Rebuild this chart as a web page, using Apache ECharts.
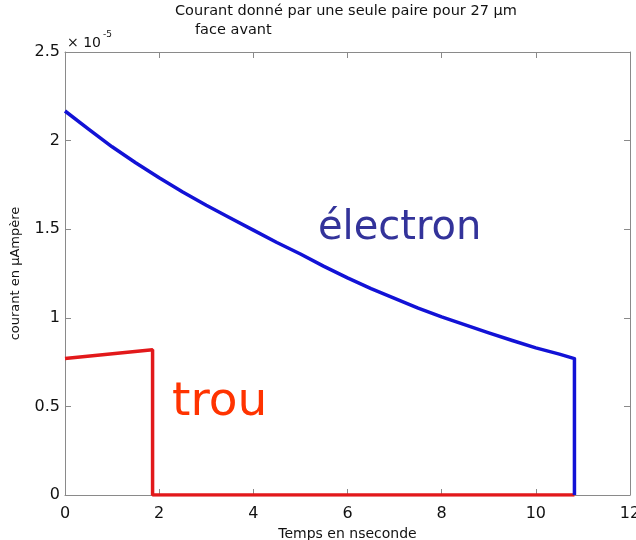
<!DOCTYPE html>
<html>
<head>
<meta charset="utf-8">
<script src="https://cdn.jsdelivr.net/npm/echarts@6/dist/echarts.min.js"></script>
<style>
html,body{margin:0;padding:0;background:#fff;}
#chart{width:636px;height:540px;}
</style>
</head>
<body>
<div id="chart"></div>
<script>
// Time in nanoseconds and current (in units of 1e-5) for each carrier
var electronTime = [0, 0.5, 1, 1.5, 2, 2.5, 3, 3.5, 4, 4.5, 5, 5.5, 6, 6.5, 7, 7.5, 8, 8.5, 9, 9.5, 10, 10.5, 10.82, 10.82];
var electronCurrent = [2.167, 2.065, 1.965, 1.875, 1.79, 1.71, 1.635, 1.565, 1.495, 1.425, 1.36, 1.29, 1.225, 1.165, 1.11, 1.055, 1.005, 0.96, 0.915, 0.872, 0.83, 0.795, 0.77, 0];
var holeTime = [0, 1.86, 1.86, 10.82];
var holeCurrent = [0.77, 0.82, 0, 0];
var xTicks = [0, 2, 4, 6, 8, 10, 12];
var yTicks = [0, 0.5, 1, 1.5, 2, 2.5];

var FONT = '"Comic Sans MS", "DejaVu Sans", sans-serif';

function pairs(xs, ys) {
  return xs.map(function (x, i) { return [x, ys[i]]; });
}

var axisLine = { show: true, onZero: false, lineStyle: { color: '#8a8a8a', width: 1 } };
var axisTick = { show: true, inside: true, length: 6, lineStyle: { color: '#8a8a8a' } };

var chart = echarts.init(document.getElementById('chart'));
chart.setOption({
  backgroundColor: '#fff',
  animation: false,
  grid: { left: 65, right: 6, top: 52, bottom: 45, containLabel: false, outerBoundsMode: 'none' },
  xAxis: [{
    type: 'value', position: 'bottom', min: xTicks[0], max: xTicks[xTicks.length - 1], interval: 2,
    axisLine: axisLine, axisTick: axisTick, splitLine: { show: false },
    axisLabel: { fontFamily: FONT, fontSize: 16, color: '#111', margin: 11 },
    name: 'Temps en nseconde', nameLocation: 'middle', nameGap: 29,
    nameTextStyle: { fontFamily: FONT, fontSize: 14, color: '#111' }
  }, {
    type: 'value', position: 'top', min: 0, max: 12, interval: 2,
    axisLine: axisLine, axisTick: axisTick, splitLine: { show: false },
    axisLabel: { show: false }
  }],
  yAxis: [{
    type: 'value', position: 'left', min: yTicks[0], max: yTicks[yTicks.length - 1], interval: 0.5,
    axisLine: axisLine, axisTick: axisTick, splitLine: { show: false },
    axisLabel: { fontFamily: FONT, fontSize: 16, color: '#111', margin: 5 },
    name: 'courant en \u03bcAmp\u00e8re', nameLocation: 'middle', nameGap: 43,
    nameTextStyle: { fontFamily: FONT, fontSize: 13, color: '#111' }
  }, {
    type: 'value', position: 'right', min: 0, max: 2.5, interval: 0.5,
    axisLine: axisLine, axisTick: axisTick, splitLine: { show: false },
    axisLabel: { show: false }
  }],
  series: [{
    name: 'trou', type: 'line', data: pairs(holeTime, holeCurrent),
    symbol: 'none',
    lineStyle: { color: '#e2191b', width: 3.5 }
  }, {
    name: '\u00e9lectron', type: 'line', data: pairs(electronTime, electronCurrent),
    symbol: 'none',
    lineStyle: { color: '#1212d6', width: 3.5, join: 'round' }
  }],
  graphic: [
    { type: 'text', left: 175, top: 4,
      style: { text: 'Courant donn\u00e9 par une seule paire pour 27 \u03bcm', font: '14.5px ' + FONT, fill: '#111' } },
    { type: 'text', left: 195, top: 23,
      style: { text: 'face avant', font: '14.5px ' + FONT, fill: '#111' } },
    { type: 'text', left: 67, top: 36,
      style: { text: '\u00d7 10', font: '14px ' + FONT, fill: '#111' } },
    { type: 'text', left: 103, top: 30,
      style: { text: '-5', font: '9px ' + FONT, fill: '#111' } },
    { type: 'text', left: 318, top: 209,
      style: { text: '\u00e9lectron', font: '40px ' + FONT, fill: '#33339a' } },
    { type: 'text', left: 172, top: 379,
      style: { text: 'trou', font: '47px ' + FONT, fill: '#ff3300' } }
  ]
});
</script>
</body>
</html>
